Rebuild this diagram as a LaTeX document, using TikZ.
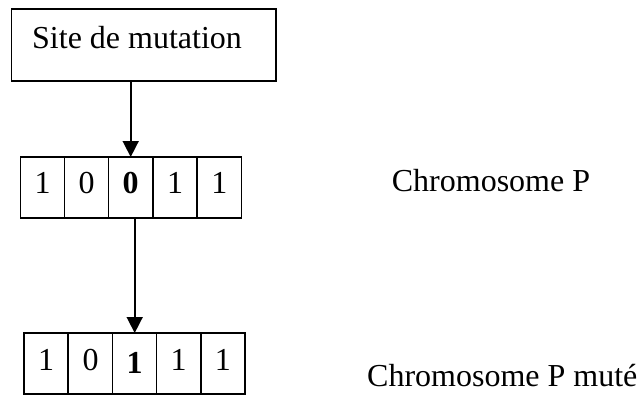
\documentclass[tikz,border=0pt]{standalone}
\usepackage{fontspec}
\setmainfont{Liberation Serif}
\usetikzlibrary{arrows.meta}
\begin{document}
\begin{tikzpicture}[x=1pt,y=-1pt,
  every node/.style={font=\fontsize{32}{38}\selectfont},
  cell/.style={draw,line width=1.5pt,minimum width=44pt,minimum height=61pt,inner sep=0pt,outer sep=0pt,text height=23pt,text depth=12pt},
  link/.style={line width=1.6pt,-{Triangle[width=16pt,length=16pt]}}]
\useasboundingbox (0,0) rectangle (640,394);
% mutation site box
\node[draw,line width=1.5pt,minimum width=264.6pt,minimum height=71.7pt,inner sep=0pt,anchor=north west] (site) at (10.7,8.3) {};
\node[anchor=base west,inner sep=0pt] (sitetxt) at (32,48.3) {Site de mutation};
% chromosome P
\node[cell] (r11) at (42.5,187.5) {1};
\node[cell] (r12) at (86.5,187.5) {0};
\node[cell] (r13) at (130.7,187.5) {\textbf{0}};
\node[cell] (r14) at (175,187.5) {1};
\node[cell] (r15) at (219.3,187.5) {1};
% mutated chromosome
\node[cell,text height=25pt,text depth=11pt] (r21) at (46.2,363.5) {1};
\node[cell,text height=25pt,text depth=11pt] (r22) at (90.5,363.5) {0};
\node[cell,text height=28pt,text depth=8pt] (r23) at (134.7,363.5) {\textbf{1}};
\node[cell,text height=25pt,text depth=11pt] (r24) at (178.7,363.5) {1};
\node[cell,text height=25pt,text depth=11pt] (r25) at (222.8,363.5) {1};
% labels
\node[anchor=base west,inner sep=0pt] (lp) at (391.7,191) {Chromosome P};
\node[anchor=base west,inner sep=0pt] (lpm) at (367,386.7) {Chromosome P muté};
% arrows
\draw[link] (site.south -| r13.north) -- (r13.north);
\draw[link] (r13.south -| r23.north) -- (r23.north);
\end{tikzpicture}
\end{document}
